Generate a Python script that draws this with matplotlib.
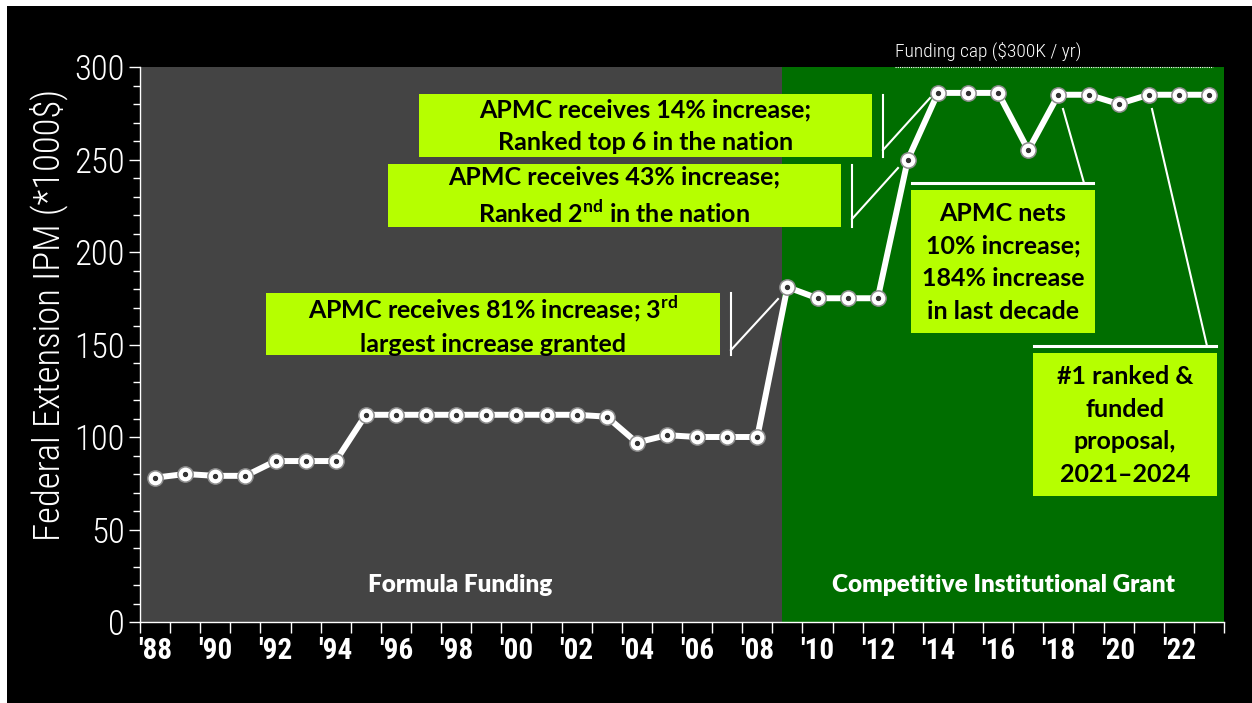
import matplotlib.pyplot as plt
from matplotlib.patches import Rectangle
from matplotlib.lines import Line2D

# Federal Extension IPM funding, thousands of dollars per year
years = list(range(1988, 2024))
funding = [78, 80, 79, 79, 87, 87, 87, 112, 112, 112, 112, 112, 112, 112, 112, 111,
           97, 101, 100, 100, 100, 181, 175, 175, 175, 250, 286, 286, 286, 255,
           285, 285, 280, 285, 285, 285]
tick_labels = ["'88", "'90", "'92", "'94", "'96", "'98", "'00", "'02", "'04",
               "'06", "'08", "'10", "'12", "'14", "'16", "'18", "'20", "'22"]
funding_cap = 300
era_labels = ['Formula Funding', 'Competitive Institutional Grant']

W, H = 1252, 703
NARROW = ['Roboto Condensed', 'DejaVu Sans']
BOX = '#b6ff00'


def fx(px):
    return px / W


def fy(py):
    return 1 - py / H


fig = plt.figure(figsize=(W / 100, H / 100), dpi=100, facecolor='white')
fig.add_artist(Rectangle((fx(7), 0), 1, fy(6), transform=fig.transFigure,
                         facecolor='black', edgecolor='none', zorder=-10))

ax = fig.add_axes([fx(140), fy(622), (1224 - 140) / W, (622 - 67) / H])
ax.set_facecolor('none')

n = len(years)
split = 20.83
ax.axvspan(-0.5, split, color='#444444', zorder=0, lw=0)
ax.axvspan(split, n - 0.5, color='#006e00', zorder=0, lw=0)

x = list(range(n))
ax.plot(x, funding, color='white', lw=4.3, marker='o', ms=11, mfc='white',
        mec='#8c8c8c', mew=1.1, zorder=3)
ax.plot(x, funding, ls='none', marker='o', ms=2.8, color='#333333', zorder=4)

# funding cap
ax.hlines(funding_cap, 24.58, 35.15, colors='white', linestyles=(0, (1, 1)),
          lw=0.8, clip_on=False, zorder=2)
ax.text(24.58, funding_cap + 3, 'Funding cap ($300K / yr)', color='white',
        fontsize=14, family=NARROW, fontweight=300, ha='left', va='bottom')

ax.set_xlim(-0.5, n - 0.5)
ax.set_ylim(0, 300)

ax.set_xticks([i - 0.5 for i in range(n + 1)])
ax.set_xticklabels([])
ax.set_xticks(list(range(0, n, 2)), labels=tick_labels, minor=True)
ax.tick_params(axis='x', which='major', length=8, width=1, color='white')
ax.tick_params(axis='x', which='minor', length=0, pad=11, labelcolor='white',
               labelsize=21)
for lab in ax.get_xticklabels(minor=True):
    lab.set_family(NARROW)
    lab.set_fontweight(900)

ax.set_yticks(range(0, 301, 50))
ax.set_yticks(range(0, 301, 10), minor=True)
ax.tick_params(axis='y', which='major', length=8, width=1, color='white',
               labelcolor='white', labelsize=25, pad=3)
ax.tick_params(axis='y', which='minor', length=5, width=1, color='white')
for lab in ax.get_yticklabels():
    lab.set_family(NARROW)
    lab.set_fontweight(300)

ax.set_ylabel('Federal Extension IPM (*1000$)', color='white', fontsize=26.5,
              family=NARROW, fontweight=300)
ax.yaxis.set_label_coords(-0.066, 0.553)

for side in ['top', 'right']:
    ax.spines[side].set_visible(False)
for side in ['left', 'bottom']:
    ax.spines[side].set_color('white')
    ax.spines[side].set_linewidth(1)

# era labels
fig.text(fx(460), fy(585), era_labels[0], color='white', fontsize=17.5,
         family='Lato', fontweight='heavy', ha='center', va='center')
fig.text(fx(1003), fy(585), era_labels[1], color='white', fontsize=17.5,
         family='Lato', fontweight='heavy', ha='center', va='center')

# callout boxes: text, left, top, right, bottom (pixels)
boxes = [
    ('APMC receives 14% increase;\nRanked top 6 in the nation', 419, 94, 872, 157),
    ('APMC receives 43% increase;\nRanked 2$^{\\mathregular{nd}}$ in the nation', 388, 164, 841, 227),
    ('APMC receives 81% increase; 3$^{\\mathregular{rd}}$\nlargest increase granted', 266, 293, 720, 355),
    ('APMC nets\n10% increase;\n184% increase\nin last decade', 911, 190, 1095, 333),
    ('#1 ranked &\nfunded\nproposal,\n2021\u20132024', 1033, 353, 1217, 496),
]
for text, x0, y0, x1, y1 in boxes:
    fig.add_artist(Rectangle((fx(x0), fy(y1)), (x1 - x0) / W, (y1 - y0) / H,
                             transform=fig.transFigure, facecolor=BOX,
                             edgecolor='none', zorder=5))
    fig.text(fx((x0 + x1) / 2), fy((y0 + y1) / 2 + 1), text, color='black',
             fontsize=18, family='Lato', fontweight='bold', ha='center',
             va='center', linespacing=1.5, zorder=6)

# callout lines (pixels)
lines = [
    ([883, 883], [95, 157], 1.5), ([883, 930], [150, 98], 1.5),
    ([852, 852], [165, 227], 1.5), ([852, 898], [219, 168], 1.5),
    ([731, 731], [293, 355], 1.5), ([731, 778], [350, 299], 1.5),
    ([912, 1093], [183, 183], 2.2), ([1084, 1063], [183, 109], 1.5),
    ([1034, 1216], [346, 346], 2.2), ([1207, 1152], [346, 109], 1.5),
]
for xs, ys, lw in lines:
    fig.add_artist(Line2D([fx(v) for v in xs], [fy(v) for v in ys],
                          transform=fig.transFigure, color='white', lw=lw,
                          zorder=5))

fig.savefig('out.png', dpi=100, facecolor=fig.get_facecolor())
